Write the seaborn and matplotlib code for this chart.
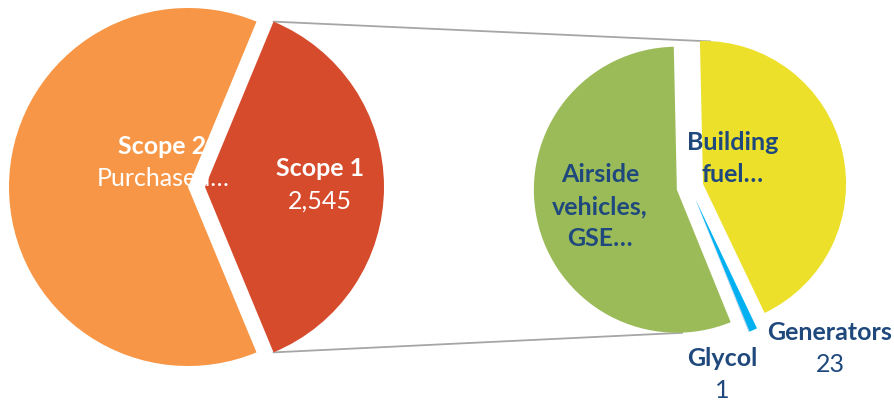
import numpy as np
import matplotlib
matplotlib.use("Agg")
import matplotlib.pyplot as plt
import seaborn as sns

# ---- data ----
left_labels = ["Scope 1", "Scope 2"]
left_values = [2545, 4242]
left_texts = [("Scope 1", "2,545"), ("Scope 2", "Purchased…")]
left_colors = ["#D64B2C", "#F79646"]

right_labels = ["Building fuel", "Airside vehicles, GSE", "Glycol", "Generators"]
right_values = [1101, 1420, 1, 23]
right_colors = ["#EDE02B", "#9BBB59", "#2E75B6", "#00B0F0"]

sns.set_theme(style="white")
plt.rcParams["font.family"] = ["Lato", "DejaVu Sans"]

W, H = 894, 401
fig = plt.figure(figsize=(W / 100, H / 100), dpi=100)
ax = fig.add_axes([0, 0, 1, 1])

# left pie
lc = (196.5, H - 187)
lr = 179
lw, _ = ax.pie(left_values, colors=left_colors, startangle=-67.5,
               radius=lr, center=lc, explode=[8.5] * len(left_values),
               counterclock=True, wedgeprops=dict(linewidth=0))

# right pie
rc = (690, H - 187)
rr = 143
rw, _ = ax.pie(right_values, colors=right_colors, startangle=-64.5,
               radius=rr, center=rc, explode=[13.4] * len(right_values),
               counterclock=True, wedgeprops=dict(linewidth=0))

# connector lines from Scope 1 wedge edges to the second pie
s1 = lw[0]
cx, cy = s1.center
p_top = (cx + s1.r * np.cos(np.radians(s1.theta2)), cy + s1.r * np.sin(np.radians(s1.theta2)))
p_bot = (cx + s1.r * np.cos(np.radians(s1.theta1)), cy + s1.r * np.sin(np.radians(s1.theta1)))
q_top = (rc[0] + 147 * np.cos(np.radians(82)), rc[1] + 147 * np.sin(np.radians(82)))
q_bot = (rc[0] + 146 * np.cos(np.radians(-93)), rc[1] + 146 * np.sin(np.radians(-93)))
ax.plot([p_top[0], q_top[0]], [p_top[1], q_top[1]], color="#A6A6A6", lw=1.3, zorder=0)
ax.plot([p_bot[0], q_bot[0]], [p_bot[1], q_bot[1]], color="#A6A6A6", lw=1.3, zorder=0)

white = "white"
navy = "#1F497D"
fs = 18

def lab(x, y, s, color, bold, size=fs):
    ax.text(x, H - y, s, color=color, fontsize=size,
            fontweight="bold" if bold else "normal",
            ha="center", va="center", zorder=10)

# left labels
lab(320, 169, left_texts[0][0], white, True)
lab(320, 201, left_texts[0][1], white, False)
lab(162, 146, left_texts[1][0], white, True)
lab(163, 178, left_texts[1][1], white, False)

# right labels
for i, s in enumerate(["Airside", "vehicles,", "GSE…"]):
    lab(600, 175 + 32 * i, s, navy, True)
for i, s in enumerate(["Building", "fuel…"]):
    lab(733, 143 + 32 * i, s, navy, True)
lab(830, 333, "Generators", navy, True)
lab(830, 365, "23", navy, False)
lab(722, 358, "Glycol", navy, True)
lab(722, 390, "1", navy, False)

ax.set_xlim(0, W)
ax.set_ylim(0, H)
ax.set_aspect("equal")
ax.axis("off")
fig.savefig("out.png", dpi=100)
